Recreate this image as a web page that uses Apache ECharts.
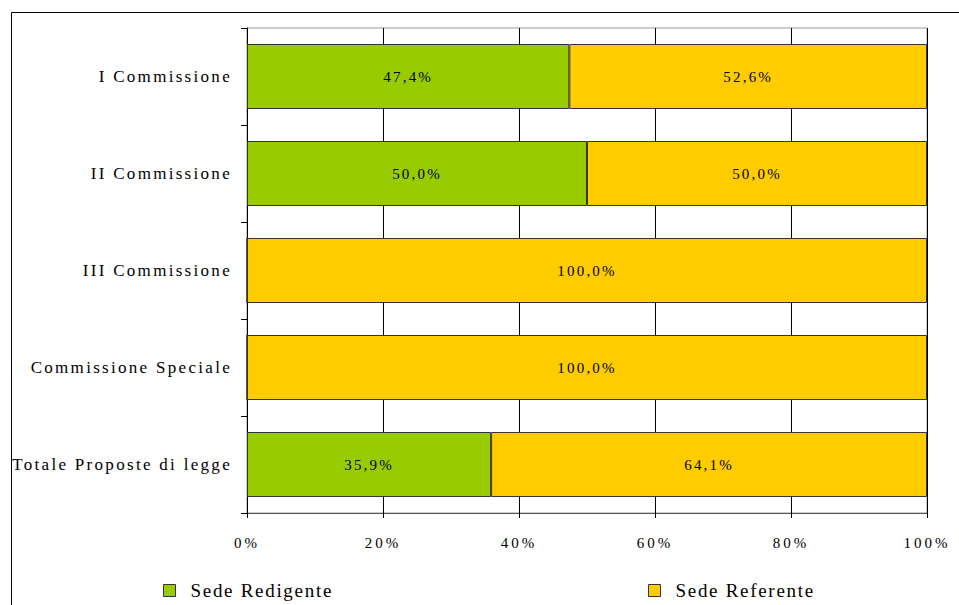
<!DOCTYPE html>
<html>
<head>
<meta charset="utf-8">
<script src="https://cdn.jsdelivr.net/npm/echarts@6/dist/echarts.min.js"></script>
<style>
html,body{margin:0;padding:0;background:#fff;}
#chart{width:959px;height:605px;}
#chart text[style*="CatSerif"]{font-family:serif !important;letter-spacing:2.3px;}
#chart text[style*="NumSerif"]{font-family:serif !important;letter-spacing:2.2px;}
#chart text[style*="AxSerif"]{font-family:serif !important;letter-spacing:3px;}
#chart text[style*="LegSerif"]{font-family:serif !important;letter-spacing:1.7px;}
</style>
</head>
<body>
<div id="chart"></div>
<script>
const categories = ['I Commissione', 'II Commissione', 'III Commissione', 'Commissione Speciale', 'Totale Proposte di legge'];
const sedeRedigente = [47.4, 50.0, 0, 0, 35.9];
const sedeReferente = [52.6, 50.0, 100.0, 100.0, 64.1];
const seriesNames = ['Sede Redigente', 'Sede Referente'];
const xTicks = [0, 20, 40, 60, 80, 100];

const chart = echarts.init(document.getElementById('chart'), null, {renderer: 'svg'});
const numFont = 'NumSerif';
const axFont = 'AxSerif';
const catFont = 'CatSerif';
const legFont = 'LegSerif';
const labelFmt = p => p.value > 0 ? p.value.toFixed(1).replace('.', ',') + '%' : '';

const legendBase = {
  itemWidth: 12, itemHeight: 12, itemGap: 15, top: 581, icon: 'rect', padding: 0,
  textStyle: {fontFamily: legFont, fontSize: 19, color: '#000', padding: [0, 0, 0, 10]},
  itemStyle: {borderColor: '#333', borderWidth: 1}
};

chart.setOption({
  animation: false,
  backgroundColor: '#fff',
  graphic: [{
    type: 'rect', shape: {x: 11.5, y: 12.5, width: 1000, height: 1000},
    style: {fill: 'none', stroke: '#000', lineWidth: 1}, silent: true, z: -10
  }],
  grid: {left: 247, right: 32, top: 28, bottom: 92, show: true, borderColor: '#999', borderWidth: 1, backgroundColor: 'transparent'},
  legend: [
    Object.assign({}, legendBase, {data: [seriesNames[0]], left: 163}),
    Object.assign({}, legendBase, {data: [seriesNames[1]], left: 648})
  ],
  xAxis: {
    type: 'value', min: xTicks[0], max: xTicks[xTicks.length - 1], interval: 20,
    axisLine: {show: true, lineStyle: {color: '#555', width: 1}},
    axisTick: {show: true, length: 5, lineStyle: {color: '#000'}},
    splitLine: {show: true, lineStyle: {color: '#000', width: 1}},
    axisLabel: {formatter: '{value}%', margin: 22, fontFamily: axFont, fontSize: 15, color: '#000'}
  },
  yAxis: {
    type: 'category', data: categories, inverse: true,
    axisLine: {show: true, lineStyle: {color: '#000', width: 1}},
    axisTick: {show: true, length: 6, lineStyle: {color: '#000'}},
    axisLabel: {fontFamily: catFont, fontSize: 17, color: '#000', margin: 15}
  },
  series: [{
    name: seriesNames[0], type: 'bar', stack: 'total', data: sedeRedigente, barWidth: '67%',
    itemStyle: {color: '#99CC00', borderColor: '#333', borderWidth: 1},
    label: {show: true, position: 'inside', formatter: labelFmt, fontFamily: numFont, fontSize: 15, color: '#000'}
  }, {
    name: seriesNames[1], type: 'bar', stack: 'total', data: sedeReferente, barWidth: '67%',
    itemStyle: {color: '#FFCC00', borderColor: '#333', borderWidth: 1},
    label: {show: true, position: 'inside', formatter: labelFmt, fontFamily: numFont, fontSize: 15, color: '#000'}
  }]
});
</script>
</body>
</html>
